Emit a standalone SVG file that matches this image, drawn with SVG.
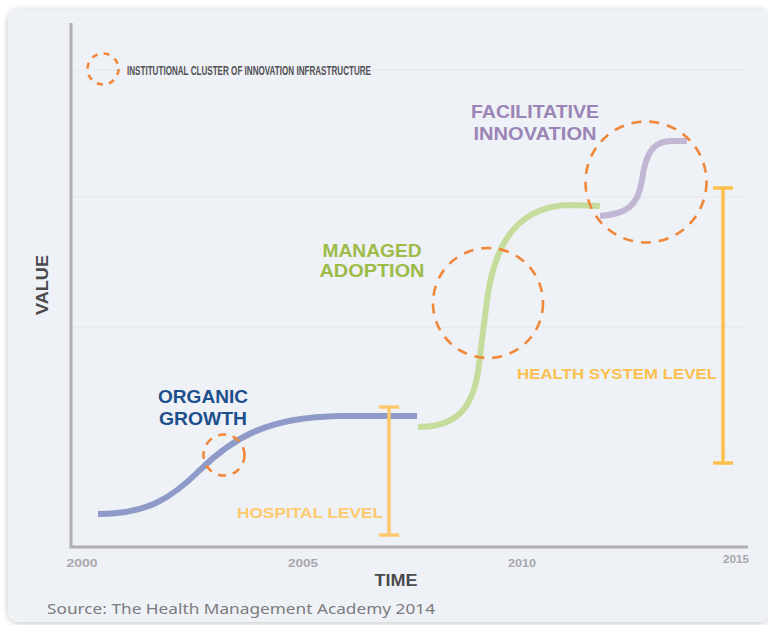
<svg xmlns="http://www.w3.org/2000/svg" width="768" height="625" viewBox="0 0 768 625">
  <defs>
    <filter id="cardShadow" x="-5%" y="-5%" width="110%" height="110%">
      <feGaussianBlur in="SourceAlpha" stdDeviation="3"/>
      <feOffset dx="0" dy="1"/>
      <feComponentTransfer><feFuncA type="linear" slope="0.25"/></feComponentTransfer>
      <feMerge><feMergeNode/><feMergeNode in="SourceGraphic"/></feMerge>
    </filter>
    <style>
      .lbl { font-family: "Liberation Sans", "DejaVu Sans", sans-serif; font-weight: bold; }
      .grid { stroke: #e5e8ee; stroke-width: 1.2; fill: none; }
      .axis { stroke: #b2afb2; stroke-width: 3; fill: none; }
      .year { font-size: 11px; fill: #a9a7aa; text-anchor: middle; }
      .cluster { fill: none; stroke: #f0873a; stroke-width: 2.6; }
      .curve { fill: none; stroke-width: 6; stroke-linecap: butt; }
      .bracket { fill: none; stroke-width: 3.5; }
    </style>
  </defs>

  <rect width="768" height="625" fill="#ffffff"/>
  <!-- card -->
  <rect x="8" y="9" width="762" height="613" rx="11" fill="#eef1f6" filter="url(#cardShadow)"/>

  <!-- grid lines -->
  <g id="grid">
    <line class="grid" x1="72" y1="70" x2="746" y2="70"/>
    <line class="grid" x1="72" y1="197" x2="746" y2="197"/>
    <line class="grid" x1="72" y1="327" x2="746" y2="327"/>
    <line class="grid" x1="72" y1="456" x2="746" y2="456"/>
  </g>

  <!-- axes -->
  <g id="axes">
    <polyline class="axis" points="71,23 71,547 748,547"/>
    <text class="lbl year" x="82" y="567" textLength="31" lengthAdjust="spacingAndGlyphs">2000</text>
    <text class="lbl year" x="303" y="567" textLength="30" lengthAdjust="spacingAndGlyphs">2005</text>
    <text class="lbl year" x="522" y="567" textLength="28" lengthAdjust="spacingAndGlyphs">2010</text>
    <text class="lbl year" x="736" y="563" textLength="26" lengthAdjust="spacingAndGlyphs">2015</text>
    <text class="lbl" x="396" y="586" font-size="16" fill="#4a4a4d" text-anchor="middle" textLength="43" lengthAdjust="spacingAndGlyphs">TIME</text>
    <text class="lbl" transform="translate(48,285) rotate(-90)" x="0" y="0" font-size="17" fill="#4a4a4d" text-anchor="middle" textLength="60" lengthAdjust="spacingAndGlyphs">VALUE</text>
  </g>

  <!-- legend -->
  <g id="legend">
    <circle class="cluster" cx="103" cy="69" r="15.5" stroke-dasharray="6 6.2" stroke-width="2.4"/>
    <text class="lbl" x="127" y="74.5" font-size="12" fill="#505053" textLength="244" lengthAdjust="spacingAndGlyphs">INSTITUTIONAL CLUSTER OF INNOVATION INFRASTRUCTURE</text>
  </g>

  <!-- growth curves -->
  <g id="connectors">
    <path id="organic-curve" class="curve" stroke="#8e9bc8" d="M98,514 C145,514 170,500 200,470 C235,436 270,417 340,416 L417,416"/>
    <path id="managed-curve" class="curve" stroke="#c6dc9c" d="M418,427 C455,427 472,410 478,372 L487,300 C495,240 520,206 570,205 L600,206"/>
    <path id="facilitative-curve" class="curve" stroke="#c2b6d5" d="M600,216 C628,214 638,205 642,180 C646,150 655,141 672,141 L687,141"/>
  </g>

  <!-- innovation clusters -->
  <g id="cluster-organic">
    <circle class="cluster" cx="224" cy="455" r="20.5" stroke-dasharray="8 7"/>
  </g>
  <g id="cluster-managed">
    <circle class="cluster" cx="488" cy="303" r="55" stroke-dasharray="10 8"/>
  </g>
  <g id="cluster-facilitative">
    <circle class="cluster" cx="646" cy="182" r="60.5" stroke-dasharray="10 8"/>
  </g>

  <!-- stage labels -->
  <g id="label-organic">
    <text class="lbl" x="203" y="403" font-size="18" fill="#1c4f8b" text-anchor="middle" textLength="90" lengthAdjust="spacingAndGlyphs">ORGANIC</text>
    <text class="lbl" x="203" y="425" font-size="18" fill="#1c4f8b" text-anchor="middle" textLength="88" lengthAdjust="spacingAndGlyphs">GROWTH</text>
  </g>
  <g id="label-managed">
    <text class="lbl" x="372" y="257" font-size="18" fill="#9cbc47" text-anchor="middle" textLength="99" lengthAdjust="spacingAndGlyphs">MANAGED</text>
    <text class="lbl" x="372" y="277" font-size="18" fill="#9cbc47" text-anchor="middle" textLength="105" lengthAdjust="spacingAndGlyphs">ADOPTION</text>
  </g>
  <g id="label-facilitative">
    <text class="lbl" x="535" y="118" font-size="18" fill="#9a85b6" text-anchor="middle" textLength="128" lengthAdjust="spacingAndGlyphs">FACILITATIVE</text>
    <text class="lbl" x="535" y="140" font-size="18" fill="#9a85b6" text-anchor="middle" textLength="123" lengthAdjust="spacingAndGlyphs">INNOVATION</text>
  </g>

  <!-- level brackets -->
  <g id="hospital-level">
    <path class="bracket" stroke="#fdc96c" d="M379,407 H399 M389,407 V535 M379,535 H399"/>
    <text class="lbl" x="237" y="518" font-size="15" fill="#fdca6e" textLength="146" lengthAdjust="spacingAndGlyphs">HOSPITAL LEVEL</text>
  </g>
  <g id="health-system-level">
    <path class="bracket" stroke="#fcbf4c" d="M713,188 H733 M723,188 V463 M713,463 H733"/>
    <text class="lbl" x="517" y="379" font-size="15" fill="#fcc04f" textLength="200" lengthAdjust="spacingAndGlyphs">HEALTH SYSTEM LEVEL</text>
  </g>

  <!-- source note -->
  <text x="47" y="614" font-family="'Noto Sans', 'Liberation Sans', sans-serif" font-size="15" fill="#7b7b7e" textLength="388" lengthAdjust="spacingAndGlyphs">Source: The Health Management Academy 2014</text>
</svg>
